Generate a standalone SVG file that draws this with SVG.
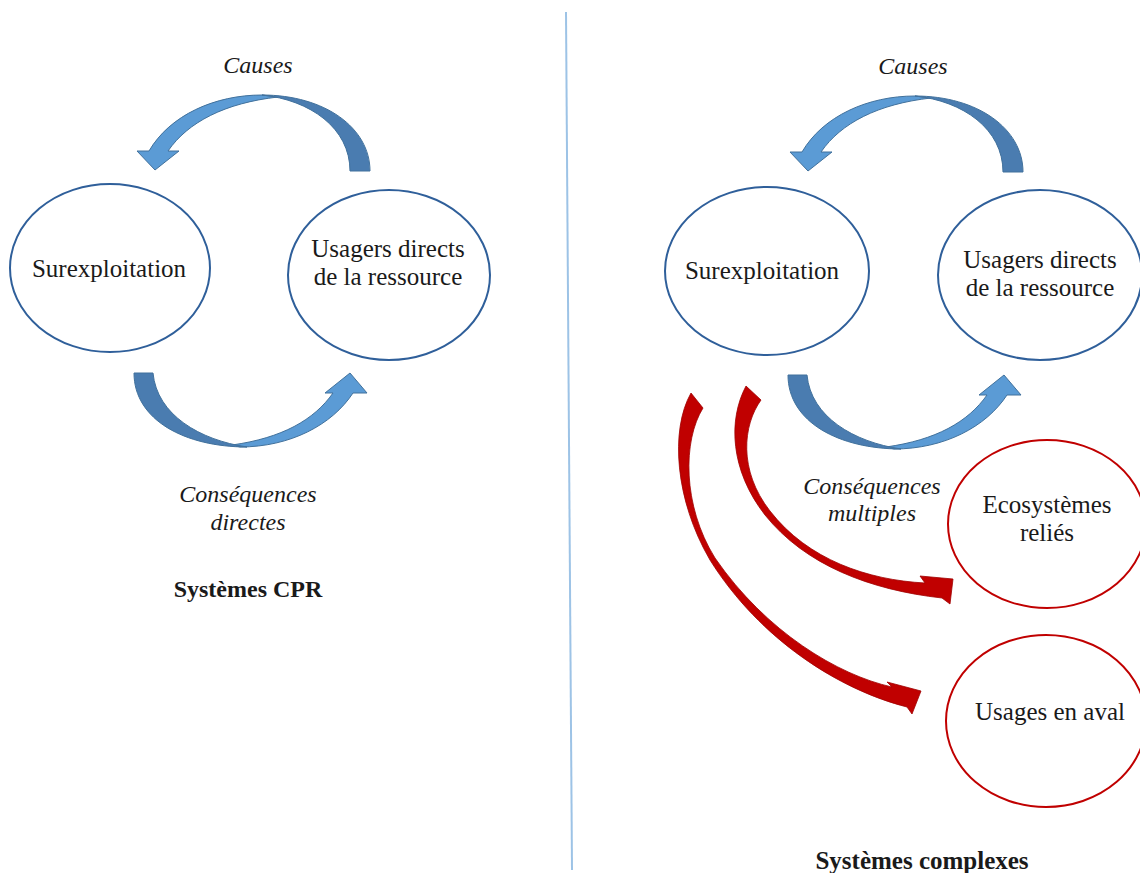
<svg xmlns="http://www.w3.org/2000/svg" width="1140" height="873" viewBox="0 0 1140 873">
<style>
  text { font-family: "Liberation Serif", "Times New Roman", serif; fill: #1a1a1a; text-anchor: middle; }
  .lbl { font-size: 25px; }
  .it { font-size: 24px; font-style: italic; }
  .bold { font-size: 24px; font-weight: bold; }
  .blueNode { fill: #ffffff; stroke: #2f5f9a; stroke-width: 2; }
  .redNode { fill: #ffffff; stroke: #c00000; stroke-width: 2; }
  .light { fill: #5b9bd5; stroke: #41719c; stroke-width: 1; }
  .dark { fill: #4a7cb0; stroke: #41719c; stroke-width: 1; }
  .red { fill: #c00000; stroke: #a00000; stroke-width: 0.8; }
</style>
<defs>
  <g id="topArrow">
    <path class="light" d="M 262 95 C 215 95 170 115 149 151 L 137 151 L 155 170 L 179 151 L 168 151 C 188 122 225 103 278 97 Z"/>
    <path class="dark" d="M 370 171 C 370 128 325 95 262 95 C 310 100 350 128 350 171 Z"/>
  </g>
  <g id="bottomArrow">
    <path class="light" d="M 240 447 C 290 447 332 425 353 393 L 367 393 L 350 373 L 325 393 L 333 393 C 314 420 282 438 232 445 Z"/>
    <path class="dark" d="M 134 373 C 134 420 185 447 247 447 C 200 440 157 415 153 373 Z"/>
  </g>
</defs>

<line x1="566" y1="12" x2="572" y2="870" stroke="#9dc3e6" stroke-width="2"/>

<g id="connectors">
  <use href="#topArrow"/>
  <use href="#bottomArrow"/>
  <use href="#topArrow" transform="translate(653,1)"/>
  <use href="#bottomArrow" transform="translate(654,2)"/>
  <path class="red" d="M 746 386 C 728 420 730 470 765 515 C 805 565 870 590 942 598 L 950 604 L 953 579 L 920 576 L 925 583 C 868 580 808 560 770 511 C 738 470 743 425 761 400 Z"/>
  <path class="red" d="M 691 393 C 670 430 675 500 710 560 C 760 640 840 690 907 707 L 912 714 L 921 691 L 887 682 L 892 687 C 838 675 766 632 715 558 C 682 505 683 440 703 408 Z"/>
</g>

<text class="it" x="258" y="73">Causes</text>
<text class="it" x="913" y="74">Causes</text>

<g id="surexploitation-left">
  <ellipse class="blueNode" cx="110" cy="268" rx="100" ry="84"/>
  <text class="lbl" x="109" y="277">Surexploitation</text>
</g>
<g id="usagers-left">
  <ellipse class="blueNode" cx="389" cy="275" rx="101" ry="85"/>
  <text class="lbl" x="388" y="257">Usagers directs</text>
  <text class="lbl" x="388" y="285">de la ressource</text>
</g>

<text class="it" x="248" y="502">Conséquences</text>
<text class="it" x="248" y="530">directes</text>
<text class="bold" x="248" y="597">Systèmes CPR</text>

<g id="surexploitation-right">
  <ellipse class="blueNode" cx="767" cy="271" rx="102" ry="84"/>
  <text class="lbl" x="762" y="279">Surexploitation</text>
</g>
<g id="usagers-right">
  <ellipse class="blueNode" cx="1040" cy="275" rx="102" ry="85"/>
  <text class="lbl" x="1040" y="268">Usagers directs</text>
  <text class="lbl" x="1040" y="296">de la ressource</text>
</g>

<text class="it" x="872" y="494">Conséquences</text>
<text class="it" x="872" y="521">multiples</text>

<g id="ecosystemes">
  <ellipse class="redNode" cx="1047" cy="524" rx="99" ry="84"/>
  <text class="lbl" x="1047" y="513">Ecosystèmes</text>
  <text class="lbl" x="1047" y="541">reliés</text>
</g>
<g id="usages-aval">
  <ellipse class="redNode" cx="1046" cy="721" rx="100" ry="86"/>
  <text class="lbl" x="1050" y="720">Usages en aval</text>
</g>

<text class="bold" x="922" y="869" style="font-size:25px">Systèmes complexes</text>
</svg>
